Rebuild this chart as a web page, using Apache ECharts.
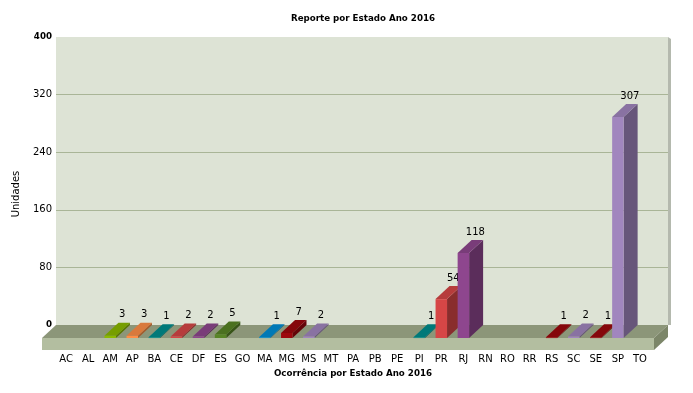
<!DOCTYPE html>
<html><head><meta charset="utf-8">
<script src="https://cdn.jsdelivr.net/npm/echarts@6/dist/echarts.min.js"></script>
<style>html,body{margin:0;padding:0;background:#fff}#c{width:693px;height:393px}</style>
</head><body><div id="c"></div>
<script>
const categories = ['AC','AL','AM','AP','BA','CE','DF','ES','GO','MA','MG','MS','MT','PA','PB','PE','PI','PR','RJ','RN','RO','RR','RS','SC','SE','SP','TO'];
const values = [0,0,3,3,1,2,2,5,0,1,7,2,0,0,0,0,1,54,118,0,0,0,1,2,1,307,0];
const yMin = 0, yMax = 400, yStep = 80;
const titleText = 'Reporte por Estado Ano 2016';
const xName = 'Ocorrência por Estado Ano 2016';
const yName = 'Unidades';

// style only
const barColors = ['#AFD8F8','#F6BD0F','#8BBA00','#FF8E46','#008E8E','#D64646','#8E468E','#588526','#B3AA00','#008ED6','#9D080D','#A186BE','#AFD8F8','#F6BD0F','#8BBA00','#FF8E46','#008E8E','#D64646','#8E468E','#588526','#B3AA00','#008ED6','#9D080D','#A186BE','#9D080D','#A186BE','#AFD8F8'];
const DX = 14, DY = 13, FH = 12;
const FONT = '"DejaVu Sans", Verdana, sans-serif';

function shade(hex, k) {
  const n = parseInt(hex.slice(1), 16);
  const r = Math.round(((n >> 16) & 255) * k), g = Math.round(((n >> 8) & 255) * k), b = Math.round((n & 255) * k);
  return 'rgb(' + r + ',' + g + ',' + b + ')';
}

function renderBar(params, api) {
  const i = api.value(0), v = api.value(1);
  if (!v) return null;
  const base = api.coord([i, 0]);
  const top = api.coord([i, v]);
  const bw = api.size([1, 0])[0] * 0.52;
  const x0 = base[0] - bw / 2, x1 = base[0] + bw / 2;
  const yb = base[1], yt = top[1];
  const c = barColors[i];
  return {
    type: 'group',
    children: [
      { type: 'polygon', shape: { points: [[x1, yb], [x1 + DX, yb - DY], [x1 + DX, yt - DY], [x1, yt]] }, style: { fill: shade(c, 0.64) } },
      { type: 'polygon', shape: { points: [[x0, yt], [x0 + DX, yt - DY], [x1 + DX, yt - DY], [x1, yt]] }, style: { fill: shade(c, 0.85) } },
      { type: 'rect', shape: { x: x0, y: yt, width: bw, height: Math.max(yb - yt, 0.8) }, style: { fill: c } },
      { type: 'text', x: base[0] + 12, y: yt - DY - 8, style: { text: String(v), align: 'center', verticalAlign: 'middle', font: '10px ' + FONT, fill: '#000' } }
    ]
  };
}

function renderFloor(params, api) {
  const cs = params.coordSys;
  const L = cs.x, R = cs.x + cs.width, T = cs.y, B = cs.y + cs.height;
  return {
    type: 'group',
    children: [
      { type: 'polygon', shape: { points: [[R, T], [R + 3, T + 2], [R + 3, B], [R, B]] }, style: { fill: '#b4b9ae' } },
      { type: 'polygon', shape: { points: [[L, B], [R, B], [R - DX, B + DY], [L - DX, B + DY]] }, style: { fill: '#8c9679' } },
      { type: 'rect', shape: { x: L - DX, y: B + DY, width: cs.width, height: FH }, style: { fill: '#b3bea0' } },
      { type: 'polygon', shape: { points: [[R, B], [R - DX, B + DY], [R - DX, B + DY + FH], [R, B + FH]] }, style: { fill: '#7c8669' } }
    ]
  };
}

const chart = echarts.init(document.getElementById('c'));
chart.setOption({
  animation: false,
  backgroundColor: '#ffffff',
  title: {
    text: titleText, left: 291, top: 14, padding: 0,
    textStyle: { fontFamily: FONT, fontSize: 8.7, fontWeight: 'bold', color: '#000' }
  },
  grid: [
    { left: 56, top: 37, width: 612, height: 288, show: true, backgroundColor: '#dde3d5', borderWidth: 0 },
    { left: 55, top: 50, width: 596, height: 288 }
  ],
  xAxis: [
    { type: 'category', gridIndex: 0, data: categories, show: false },
    {
      type: 'category', gridIndex: 1, data: categories,
      axisLine: { show: false }, axisTick: { show: false },
      axisLabel: { interval: 0, margin: 16, fontFamily: FONT, fontSize: 10, color: '#000' },
      name: xName, nameLocation: 'middle', nameGap: 31,
      nameTextStyle: { fontFamily: FONT, fontSize: 8.7, fontWeight: 'bold', color: '#000' }
    }
  ],
  yAxis: [
    {
      type: 'value', gridIndex: 0, min: yMin, max: yMax, interval: yStep,
      axisLine: { show: false }, axisTick: { show: false },
      splitLine: { lineStyle: { color: ['#a9b597', '#a9b597', '#a9b597', '#a9b597', '#a9b597', 'rgba(0,0,0,0)'], width: 1 } },
      axisLabel: {
        margin: 4,
        formatter: function (v) { return (v === yMin || v === yMax) ? '{b|' + v + '}' : '{n|' + v + '}'; },
        rich: {
          b: { fontFamily: FONT, fontSize: 8.7, fontWeight: 'bold', color: '#000' },
          n: { fontFamily: FONT, fontSize: 10, color: '#000' }
        }
      }
    },
    {
      type: 'value', gridIndex: 1, min: yMin, max: yMax, interval: yStep,
      axisLine: { show: false }, axisTick: { show: false }, axisLabel: { show: false }, splitLine: { show: false },
      name: yName, nameLocation: 'middle', nameGap: 34,
      nameTextStyle: { fontFamily: FONT, fontSize: 10, color: '#000' }
    }
  ],
  series: [
    { type: 'custom', xAxisIndex: 0, yAxisIndex: 0, renderItem: renderFloor, data: [[0, 0]], silent: true, z: 1 },
    { type: 'custom', xAxisIndex: 1, yAxisIndex: 1, renderItem: renderBar, data: values.map(function (v, i) { return [i, v]; }), z: 3 }
  ]
});
</script>
</body></html>
